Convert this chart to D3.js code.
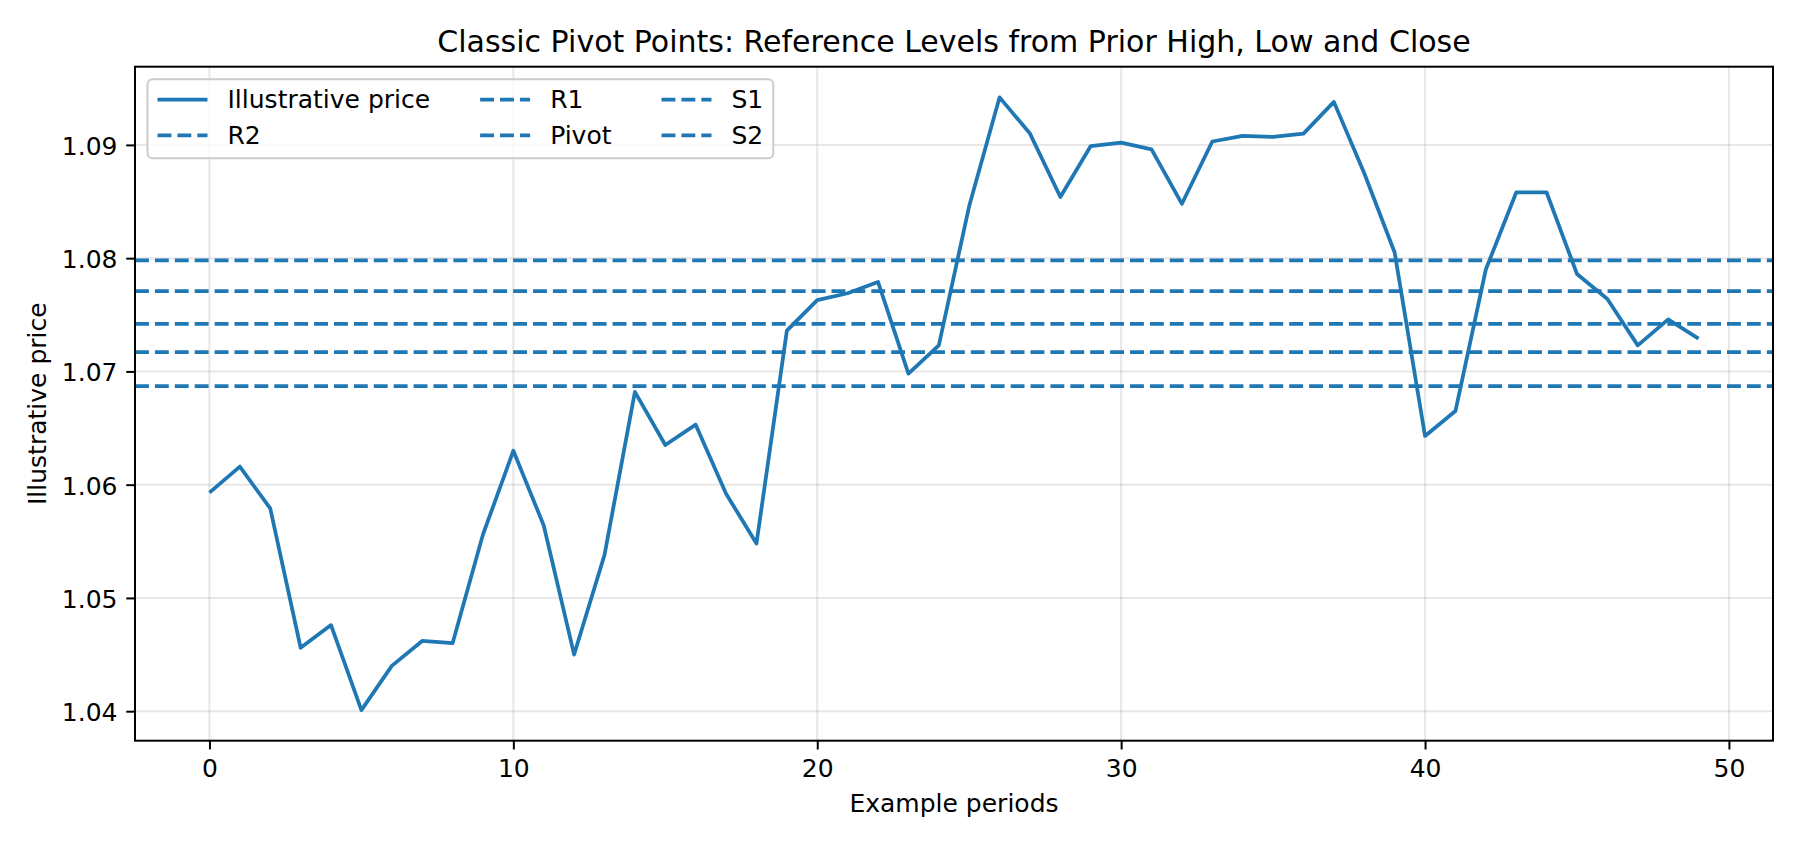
<!DOCTYPE html>
<html>
<head>
<meta charset="utf-8">
<script src="https://cdn.jsdelivr.net/npm/d3@7"></script>
<style>
    html, body { margin: 0; padding: 0; background: #fff; }
    svg { display: block; font-family: "DejaVu Sans", sans-serif; }
</style>
</head>
<body>
<svg id="chart"></svg>
<script>
// Closing prices per period
const prices = [
    1.0593, 1.0616, 1.0579, 1.0456, 1.0476, 1.0401, 1.0440, 1.0462, 1.0460, 1.0556,
    1.0630, 1.0564, 1.0450, 1.0538, 1.0682, 1.0635, 1.0653, 1.0592, 1.0548, 1.0736,
    1.0763, 1.0769, 1.0779, 1.0698, 1.0723, 1.0846, 1.0942, 1.0910, 1.0854, 1.0899,
    1.0902, 1.0896, 1.0848, 1.0903, 1.0908, 1.0907, 1.0910, 1.0938, 1.0875, 1.0805,
    1.0643, 1.0665, 1.0790, 1.0858, 1.0858, 1.0786, 1.0764, 1.0723, 1.0746, 1.0729
]

// Pivot levels (horizontal reference lines)
const levelNames = ['R2', 'R1', 'Pivot', 'S1', 'S2']
const levelValues = [1.0798, 1.0771, 1.0742, 1.0717, 1.0687]

const xTicks = [0, 10, 20, 30, 40, 50]
const yTicks = [1.04, 1.05, 1.06, 1.07, 1.08, 1.09]

const seriesLabel = 'Illustrative price'

class PivotChart {
    constructor(_config) {
        this.config = {
            parentElement: _config.parentElement,
            containerWidth: _config.containerWidth || 1800,
            containerHeight: _config.containerHeight || 846,
            margin: {top: 66.7, right: 27, bottom: 105.3, left: 135},
            color: '#1f77b4',
            fontSize: 25
        }
        this.initVis()
    }

    initVis() {
        let vis = this
        const c = vis.config

        vis.width = c.containerWidth - c.margin.left - c.margin.right
        vis.height = c.containerHeight - c.margin.top - c.margin.bottom

        // matplotlib style 5% padding on both axes
        const n = prices.length
        const xPad = (n - 1) * 0.05
        const [yMin, yMax] = d3.extent(prices.concat(levelValues))
        const yPad = (yMax - yMin) * 0.05

        vis.xScale = d3.scaleLinear()
            .domain([-xPad, n - 1 + xPad])
            .range([0, vis.width])

        vis.yScale = d3.scaleLinear()
            .domain([yMin - yPad, yMax + yPad])
            .range([vis.height, 0])

        vis.svg = d3.select(c.parentElement)
            .attr('width', c.containerWidth)
            .attr('height', c.containerHeight)

        vis.chart = vis.svg.append('g')
            .attr('transform', `translate(${c.margin.left},${c.margin.top})`)

        vis.svg.append('defs').append('clipPath')
            .attr('id', 'plot-clip')
            .append('rect')
            .attr('width', vis.width)
            .attr('height', vis.height)

        vis.renderVis()
    }

    renderVis() {
        let vis = this
        const c = vis.config

        // Grid
        const grid = vis.chart.append('g')
        grid.selectAll('.xgrid')
            .data(xTicks)
            .join('line')
            .attr('x1', d => vis.xScale(d))
            .attr('x2', d => vis.xScale(d))
            .attr('y1', 0)
            .attr('y2', vis.height)
            .attr('stroke', '#b0b0b0')
            .attr('stroke-opacity', 0.3)
            .attr('stroke-width', 2)
        grid.selectAll('.ygrid')
            .data(yTicks)
            .join('line')
            .attr('x1', 0)
            .attr('x2', vis.width)
            .attr('y1', d => vis.yScale(d))
            .attr('y2', d => vis.yScale(d))
            .attr('stroke', '#b0b0b0')
            .attr('stroke-opacity', 0.3)
            .attr('stroke-width', 2)

        const plot = vis.chart.append('g').attr('clip-path', 'url(#plot-clip)')

        // Price line
        const line = d3.line()
            .x((d, i) => vis.xScale(i))
            .y(d => vis.yScale(d))

        plot.append('path')
            .datum(prices)
            .attr('d', line)
            .attr('fill', 'none')
            .attr('stroke', c.color)
            .attr('stroke-width', 3.75)
            .attr('stroke-linejoin', 'round')

        // Pivot levels
        plot.selectAll('.level')
            .data(levelValues)
            .join('line')
            .attr('x1', 0)
            .attr('x2', vis.width)
            .attr('y1', d => vis.yScale(d))
            .attr('y2', d => vis.yScale(d))
            .attr('stroke', c.color)
            .attr('stroke-width', 3.75)
            .attr('stroke-dasharray', '13.9,6')

        // Axes
        const xAxis = d3.axisBottom(vis.xScale)
            .tickValues(xTicks)
            .tickFormat(d3.format('d'))
            .tickSize(8.75)
            .tickPadding(8.75)
            .tickSizeOuter(0)
        const yAxis = d3.axisLeft(vis.yScale)
            .tickValues(yTicks)
            .tickFormat(d3.format('.2f'))
            .tickSize(8.75)
            .tickPadding(8.75)
            .tickSizeOuter(0)

        const gx = vis.chart.append('g')
            .attr('transform', `translate(0,${vis.height})`)
            .call(xAxis)
        const gy = vis.chart.append('g').call(yAxis)

        ;[gx, gy].forEach(g => {
            g.select('.domain').remove()
            g.selectAll('.tick line').attr('stroke', '#000').attr('stroke-width', 2)
            g.selectAll('.tick text')
                .attr('fill', '#000')
                .attr('font-size', c.fontSize)
                .attr('font-family', '"DejaVu Sans", sans-serif')
        })
        gx.selectAll('.tick text').attr('dy', null).attr('y', 36.8)
        gy.selectAll('.tick text').attr('dy', null).attr('y', 9.5)

        // Spines
        vis.chart.append('rect')
            .attr('width', vis.width)
            .attr('height', vis.height)
            .attr('fill', 'none')
            .attr('stroke', '#000')
            .attr('stroke-width', 2)

        // Labels and title
        vis.chart.append('text')
            .attr('x', vis.width / 2)
            .attr('y', vis.height + 71.5)
            .attr('text-anchor', 'middle')
            .attr('font-size', c.fontSize)
            .text('Example periods')

        vis.svg.append('text')
            .attr('transform', `translate(46,${c.margin.top + vis.height / 2}) rotate(-90)`)
            .attr('text-anchor', 'middle')
            .attr('font-size', c.fontSize)
            .text(seriesLabel)

        vis.svg.append('text')
            .attr('x', c.margin.left + vis.width / 2)
            .attr('y', 51.5)
            .attr('text-anchor', 'middle')
            .attr('font-size', 30)
            .text('Classic Pivot Points: Reference Levels from Prior High, Low and Close')

        vis.renderLegend()
    }

    renderLegend() {
        let vis = this
        const c = vis.config
        const fs = c.fontSize

        // entries fill column by column, 2 rows x 3 columns
        const entries = [{label: seriesLabel, dashed: false}]
            .concat(levelNames.map(name => ({label: name, dashed: true})))
        const nRows = 2
        const handleLen = 2 * fs, textPad = 0.8 * fs, colSpace = 2 * fs, borderPad = 0.4 * fs
        const rowGap = 35.7, firstRow = 20.5

        const legend = vis.chart.append('g')
            .attr('transform', `translate(${0.5 * fs},${0.5 * fs})`)

        const box = legend.append('rect')
            .attr('fill', '#fff')
            .attr('fill-opacity', 0.8)
            .attr('stroke', '#cccccc')
            .attr('stroke-width', 2)
            .attr('rx', 5)

        const items = legend.selectAll('.entry')
            .data(entries)
            .join('g')

        items.append('text')
            .attr('font-size', fs)
            .attr('dy', '0.35em')
            .text(d => d.label)

        // column widths from the measured labels
        const widths = []
        items.each(function(d, i) {
            const col = Math.floor(i / nRows)
            const w = this.querySelector('text').getComputedTextLength()
            widths[col] = Math.max(widths[col] || 0, w)
        })

        const colX = []
        let x = borderPad
        widths.forEach((w, i) => {
            colX[i] = x
            x += handleLen + textPad + w + colSpace
        })
        const boxW = x - colSpace + borderPad

        items.attr('transform', (d, i) => {
            const col = Math.floor(i / nRows), row = i % nRows
            return `translate(${colX[col]},${firstRow + row * rowGap})`
        })

        items.insert('line', 'text')
            .attr('x1', 0)
            .attr('x2', handleLen)
            .attr('stroke', c.color)
            .attr('stroke-width', 3.75)
            .attr('stroke-dasharray', d => d.dashed ? '13.9,6' : null)

        items.select('text').attr('x', handleLen + textPad)

        box.attr('width', boxW).attr('height', 79)
    }
}

new PivotChart({parentElement: '#chart'})
</script>
</body>
</html>
